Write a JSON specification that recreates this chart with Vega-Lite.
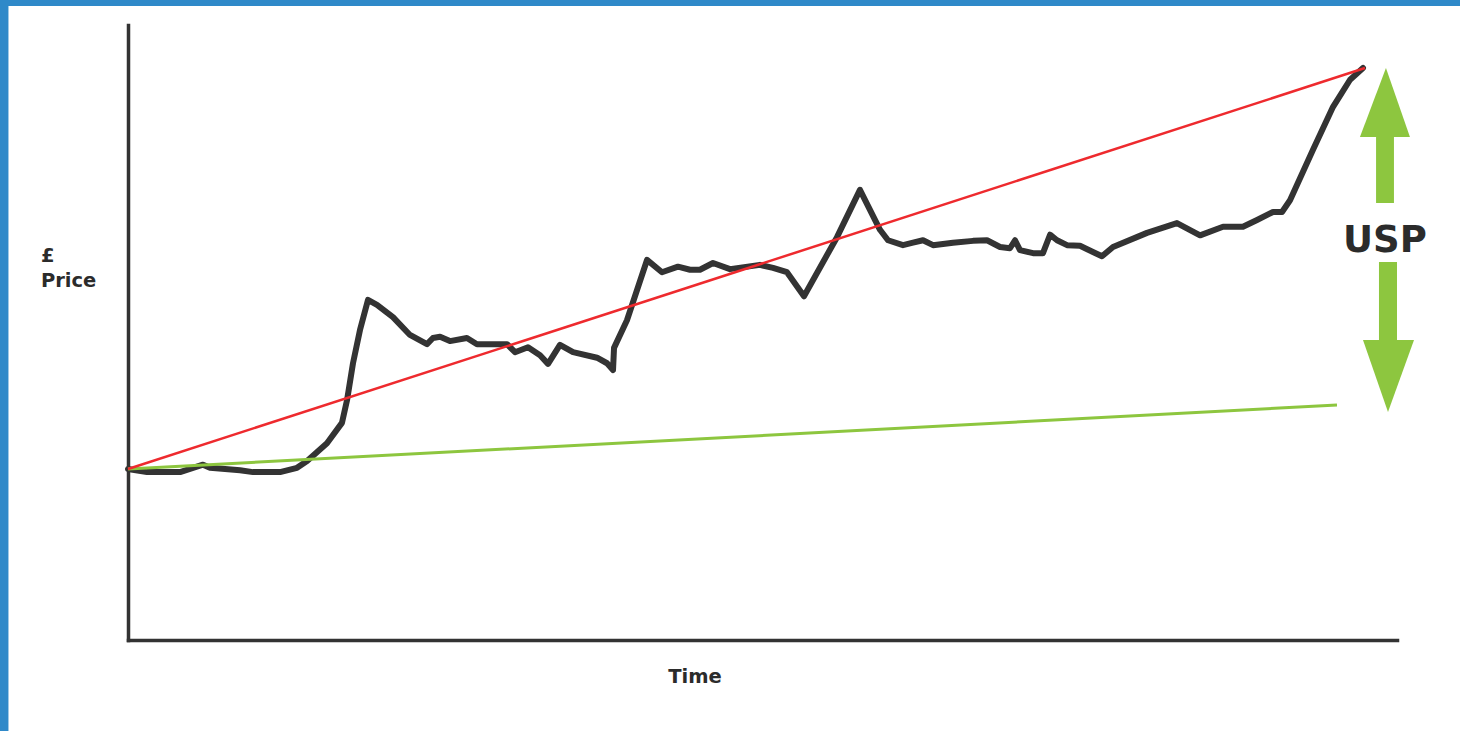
{
  "$schema": "https://vega.github.io/schema/vega-lite/v6.json",
  "width": 1269,
  "height": 615,
  "autosize": {"type": "none"},
  "padding": {"left": 128, "top": 25, "right": 63, "bottom": 91},
  "background": "#ffffff",
  "config": {"view": {"stroke": null}},
  "datasets": {
    "border": [
      {"part": "left", "t1": -10.2, "t2": -9.42, "p1": -15, "p2": 104.2},
      {"part": "top", "t1": -10.2, "t2": 105, "p1": 103.09, "p2": 104.2}
    ],
    "price": [
      {"time": 0, "price": 27.8},
      {"time": 1.5, "price": 27.3},
      {"time": 4.1, "price": 27.3},
      {"time": 5.91, "price": 28.5},
      {"time": 6.46, "price": 28.0},
      {"time": 8.83, "price": 27.6},
      {"time": 9.85, "price": 27.3},
      {"time": 11.98, "price": 27.3},
      {"time": 13.32, "price": 28.0},
      {"time": 14.11, "price": 29.1},
      {"time": 15.68, "price": 32.0},
      {"time": 16.86, "price": 35.3},
      {"time": 17.26, "price": 39.0},
      {"time": 17.73, "price": 45.0},
      {"time": 18.28, "price": 50.4},
      {"time": 18.91, "price": 55.3},
      {"time": 19.62, "price": 54.5},
      {"time": 20.88, "price": 52.5},
      {"time": 22.22, "price": 49.6},
      {"time": 23.56, "price": 48.1},
      {"time": 24.03, "price": 49.1},
      {"time": 24.59, "price": 49.3},
      {"time": 25.37, "price": 48.6},
      {"time": 26.71, "price": 49.1},
      {"time": 27.5, "price": 48.1},
      {"time": 29.87, "price": 48.1},
      {"time": 30.5, "price": 46.8},
      {"time": 31.52, "price": 47.6},
      {"time": 32.47, "price": 46.3},
      {"time": 33.1, "price": 44.9},
      {"time": 34.04, "price": 48.0},
      {"time": 35.07, "price": 46.8},
      {"time": 36.96, "price": 45.9},
      {"time": 37.75, "price": 45.0},
      {"time": 38.22, "price": 43.9},
      {"time": 38.3, "price": 47.5},
      {"time": 39.32, "price": 52.0},
      {"time": 40.9, "price": 61.8},
      {"time": 42.08, "price": 59.8},
      {"time": 43.34, "price": 60.7},
      {"time": 44.29, "price": 60.2},
      {"time": 45.07, "price": 60.2},
      {"time": 46.1, "price": 61.3},
      {"time": 47.44, "price": 60.3},
      {"time": 49.8, "price": 61.0},
      {"time": 50.83, "price": 60.5},
      {"time": 51.93, "price": 59.8},
      {"time": 53.27, "price": 55.9},
      {"time": 55.87, "price": 65.5},
      {"time": 57.68, "price": 73.2},
      {"time": 59.26, "price": 66.7},
      {"time": 59.89, "price": 65.0},
      {"time": 61.07, "price": 64.2},
      {"time": 61.86, "price": 64.6},
      {"time": 62.65, "price": 65.0},
      {"time": 63.44, "price": 64.2},
      {"time": 65.01, "price": 64.6},
      {"time": 66.59, "price": 64.9},
      {"time": 67.69, "price": 65.0},
      {"time": 68.72, "price": 63.9},
      {"time": 69.5, "price": 63.7},
      {"time": 69.9, "price": 65.0},
      {"time": 70.29, "price": 63.4},
      {"time": 71.32, "price": 62.9},
      {"time": 72.1, "price": 62.9},
      {"time": 72.66, "price": 65.9},
      {"time": 73.21, "price": 65.0},
      {"time": 74.0, "price": 64.2},
      {"time": 75.02, "price": 64.1},
      {"time": 76.04, "price": 63.1},
      {"time": 76.75, "price": 62.4},
      {"time": 77.62, "price": 63.9},
      {"time": 80.3, "price": 66.2},
      {"time": 82.66, "price": 67.8},
      {"time": 84.48, "price": 65.8},
      {"time": 86.29, "price": 67.2},
      {"time": 87.86, "price": 67.2},
      {"time": 88.97, "price": 68.3},
      {"time": 90.23, "price": 69.6},
      {"time": 90.94, "price": 69.6},
      {"time": 91.57, "price": 71.5},
      {"time": 93.38, "price": 79.7},
      {"time": 94.96, "price": 86.7},
      {"time": 96.3, "price": 91.1},
      {"time": 97.32, "price": 93.0}
    ],
    "trend": [
      {"line": "red", "time": 0, "price": 27.8},
      {"line": "red", "time": 97.48, "price": 93.0},
      {"line": "green", "time": 0, "price": 27.8},
      {"line": "green", "time": 95.27, "price": 38.2}
    ],
    "heads": [
      {"arrow": "up", "time": 97.08, "top": 81.8, "base": 81.8},
      {"arrow": "up", "time": 99.13, "top": 93.0, "base": 81.8},
      {"arrow": "up", "time": 101.02, "top": 81.8, "base": 81.8},
      {"arrow": "down", "time": 97.32, "top": 48.78, "base": 48.78},
      {"arrow": "down", "time": 99.29, "top": 37.07, "base": 48.78},
      {"arrow": "down", "time": 101.34, "top": 48.78, "base": 48.78}
    ],
    "shafts": [
      {"arrow": "up", "t1": 98.35, "t2": 99.76, "p1": 71.06, "p2": 82.0},
      {"arrow": "down", "t1": 98.58, "t2": 100.0, "p1": 48.6, "p2": 61.46}
    ],
    "axisLabels": [
      {"text": "£", "time": -6.86, "price": 61.46},
      {"text": "Price", "time": -6.86, "price": 57.4}
    ],
    "centerLabels": [
      {"text": "Time", "time": 44.68, "price": -6.99}
    ],
    "usp": [
      {"text": "USP", "time": 99.05, "price": 63.09}
    ]
  },
  "layer": [
    {
      "data": {"name": "border"},
      "mark": {"type": "rect", "color": "#2f89c9", "clip": false},
      "encoding": {
        "x": {"field": "t1", "type": "quantitative", "scale": {"domain": [0, 100], "nice": false, "zero": false},
          "axis": {"domain": true, "domainColor": "#333333", "domainWidth": 3.5, "domainCap": "square", "ticks": false, "labels": false, "grid": false, "title": null}},
        "x2": {"field": "t2"},
        "y": {"field": "p1", "type": "quantitative", "scale": {"domain": [0, 100], "nice": false, "zero": false},
          "axis": {"domain": true, "domainColor": "#333333", "domainWidth": 3.5, "domainCap": "square", "ticks": false, "labels": false, "grid": false, "title": null}},
        "y2": {"field": "p2"}
      }
    },
    {
      "data": {"name": "price"},
      "mark": {"type": "line", "color": "#333333", "strokeWidth": 6, "strokeJoin": "round", "strokeCap": "round", "clip": false},
      "encoding": {
        "x": {"field": "time", "type": "quantitative"},
        "y": {"field": "price", "type": "quantitative"}
      }
    },
    {
      "data": {"name": "trend"},
      "transform": [{"filter": "datum.line === 'green'"}],
      "mark": {"type": "line", "color": "#8dc63f", "strokeWidth": 3, "clip": false},
      "encoding": {
        "x": {"field": "time", "type": "quantitative"},
        "y": {"field": "price", "type": "quantitative"}
      }
    },
    {
      "data": {"name": "trend"},
      "transform": [{"filter": "datum.line === 'red'"}],
      "mark": {"type": "line", "color": "#ee2a2e", "strokeWidth": 2.5, "clip": false},
      "encoding": {
        "x": {"field": "time", "type": "quantitative"},
        "y": {"field": "price", "type": "quantitative"}
      }
    },
    {
      "data": {"name": "shafts"},
      "mark": {"type": "rect", "color": "#8dc63f", "clip": false},
      "encoding": {
        "x": {"field": "t1", "type": "quantitative"},
        "x2": {"field": "t2"},
        "y": {"field": "p1", "type": "quantitative"},
        "y2": {"field": "p2"}
      }
    },
    {
      "data": {"name": "heads"},
      "mark": {"type": "area", "color": "#8dc63f", "opacity": 1, "clip": false},
      "encoding": {
        "x": {"field": "time", "type": "quantitative"},
        "y": {"field": "top", "type": "quantitative"},
        "y2": {"field": "base"},
        "detail": {"field": "arrow", "type": "nominal"}
      }
    },
    {
      "data": {"name": "axisLabels"},
      "mark": {"type": "text", "align": "left", "baseline": "alphabetic", "font": "DejaVu Sans", "fontWeight": "bold", "fontSize": 19.5, "color": "#2b2b2b", "clip": false},
      "encoding": {
        "x": {"field": "time", "type": "quantitative"},
        "y": {"field": "price", "type": "quantitative"},
        "text": {"field": "text"}
      }
    },
    {
      "data": {"name": "centerLabels"},
      "mark": {"type": "text", "align": "center", "baseline": "alphabetic", "font": "DejaVu Sans", "fontWeight": "bold", "fontSize": 19.5, "color": "#2b2b2b", "clip": false},
      "encoding": {
        "x": {"field": "time", "type": "quantitative"},
        "y": {"field": "price", "type": "quantitative"},
        "text": {"field": "text"}
      }
    },
    {
      "data": {"name": "usp"},
      "mark": {"type": "text", "align": "center", "baseline": "alphabetic", "font": "DejaVu Sans", "fontWeight": "bold", "fontSize": 37, "color": "#2b2b2b", "clip": false},
      "encoding": {
        "x": {"field": "time", "type": "quantitative"},
        "y": {"field": "price", "type": "quantitative"},
        "text": {"field": "text"}
      }
    }
  ]
}
